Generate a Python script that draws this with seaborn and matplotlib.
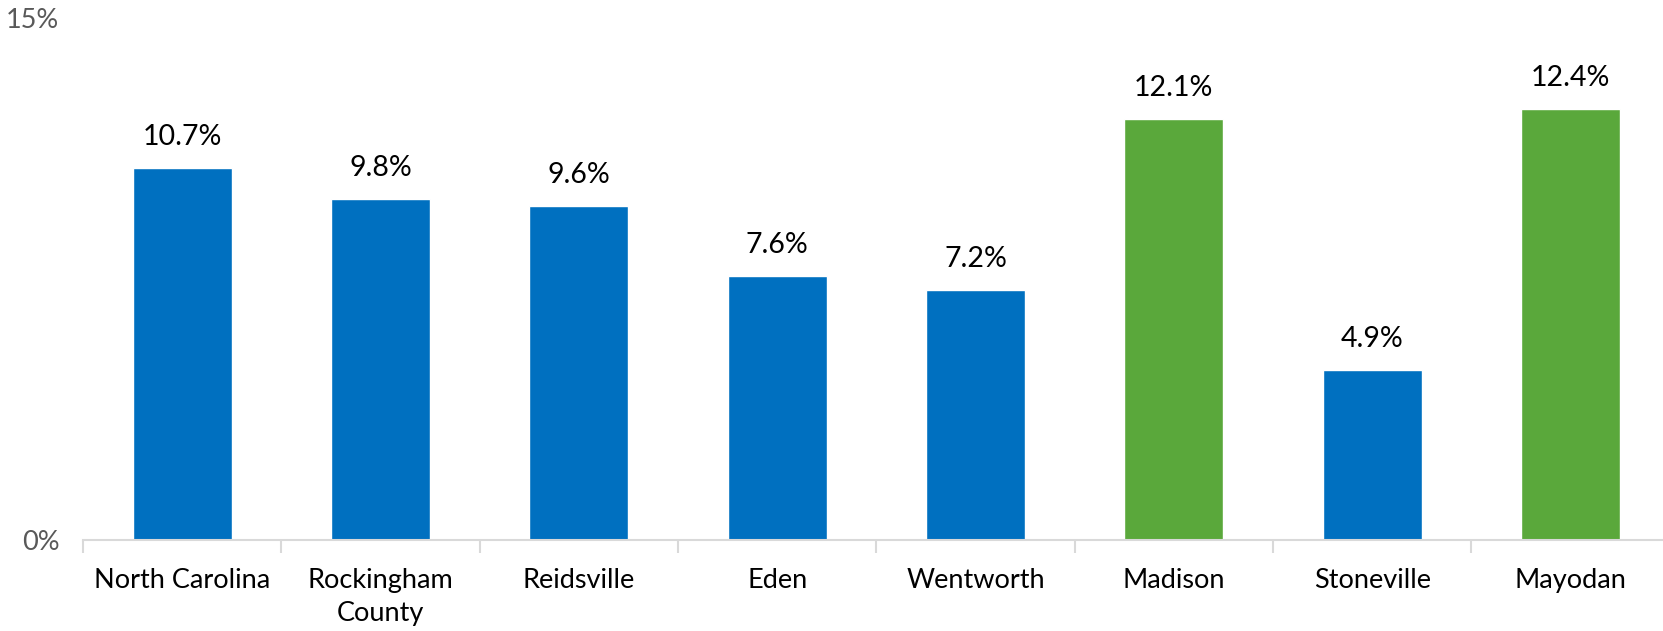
import matplotlib
matplotlib.use("Agg")
import matplotlib.pyplot as plt
import seaborn as sns
import pandas as pd

# Share of residents, by place
places = ["North Carolina", "Rockingham\nCounty", "Reidsville", "Eden",
          "Wentworth", "Madison", "Stoneville", "Mayodan"]
values = [10.7, 9.8, 9.6, 7.6, 7.2, 12.1, 4.9, 12.4]
groups = ["base", "base", "base", "base", "base", "highlight", "base", "highlight"]
y_ticks = [0, 15]
y_tick_labels = ["0%", "15%"]

palette = {"base": "#0070C0", "highlight": "#5AA83B"}

sns.set_theme(style="white")
plt.rcParams["font.family"] = ["Lato", "DejaVu Sans"]

df = pd.DataFrame({"place": places, "value": values, "group": groups})

fig = plt.figure(figsize=(16.63, 6.31), dpi=100)
ax = fig.add_axes([83 / 1663, 91 / 631, 1586.6 / 1663, 521.5 / 631])

sns.barplot(data=df, x="place", y="value", hue="group", palette=palette,
            order=places, dodge=False, width=0.5, legend=False, ax=ax,
            saturation=1)

ax.set_xlim(-0.5, len(places) - 0.5)
ax.set_ylim(0, 15)
ax.set_yticks(y_ticks)
ax.set_yticklabels(y_tick_labels, color="#595959", fontsize=19.5)
ax.tick_params(axis="y", length=0, pad=17)
ax.set_xlabel("")
ax.set_ylabel("")

# category boundary ticks below the baseline
ax.set_xticks([i - 0.5 for i in range(len(places) + 1)], minor=True)
ax.tick_params(axis="x", which="minor", length=9, width=1.5, color="#D9D9D9",
               direction="out", bottom=True)
ax.tick_params(axis="x", which="major", length=0, pad=20, labelsize=19.5,
               labelcolor="black")
for lbl in ax.get_xticklabels():
    lbl.set_linespacing(1.4)
    lbl.set_verticalalignment("top")

for side in ["top", "right", "left"]:
    ax.spines[side].set_visible(False)
ax.spines["bottom"].set_color("#D9D9D9")
ax.spines["bottom"].set_linewidth(1.5)

for i, v in enumerate(values):
    ax.annotate(f"{v:.1f}%", (i, v), xytext=(0, 13), textcoords="offset points",
                ha="center", va="bottom", fontsize=20.5, color="black")

fig.savefig("out.png", dpi=100)
